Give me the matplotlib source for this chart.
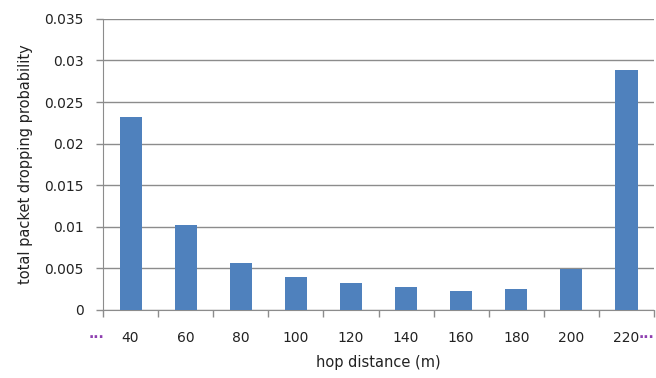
import matplotlib.pyplot as plt
import numpy as np

hops = ["40", "60", "80", "100", "120", "140", "160", "180", "200", "220"]
drop_prob = [0.0232, 0.0102, 0.0057, 0.0040, 0.0033, 0.0028, 0.0023, 0.0025, 0.0049, 0.0289]
yticks = [0, 0.005, 0.01, 0.015, 0.02, 0.025, 0.03, 0.035]
ytick_labels = ["0", "0.005", "0.01", "0.015", "0.02", "0.025", "0.03", "0.035"]

plt.rcParams["font.family"] = ["DejaVu Sans"]

fig = plt.figure(figsize=(6.56, 3.78), dpi=100)
ax = fig.add_axes([0.157, 0.18, 0.84, 0.77])

x = np.arange(len(hops))
ax.bar(x, drop_prob, width=0.4, color="#4F81BD", zorder=3)

ax.set_xlim(-0.5, len(hops) - 0.5)
ax.set_ylim(0, 0.035)
ax.set_yticks(yticks)
ax.set_yticklabels(ytick_labels)
ax.grid(axis="y", color="#8c8c8c", linewidth=1, zorder=0)

# category labels centred, ticks on boundaries
ax.set_xticks(np.arange(-0.5, len(hops) + 0.5, 1.0))
ax.set_xticklabels([])
ax.set_xticks(x, minor=True)
ax.set_xticklabels(hops, minor=True)
ax.tick_params(axis="x", which="minor", length=0, pad=15, labelsize=10, colors="#222222")
ax.tick_params(axis="x", which="major", length=5, color="#8c8c8c", width=1)
ax.tick_params(axis="y", length=5, color="#8c8c8c", width=1, labelsize=10, labelcolor="#222222", pad=9)

for side in ["top", "right"]:
    ax.spines[side].set_visible(False)
for side in ["left", "bottom"]:
    ax.spines[side].set_color("#8c8c8c")

# the purple dots on either side of the category axis
ax.text(-0.62, -0.0034, "···", color="#8e3fb0", fontsize=10, fontweight="bold",
        ha="center", va="center", clip_on=False)
ax.text(9.37, -0.0034, "···", color="#8e3fb0", fontsize=10, fontweight="bold",
        ha="center", va="center", clip_on=False)

ax.set_xlabel("hop distance (m)", fontsize=10.5, color="#222222", labelpad=7)
ax.set_ylabel("total packet dropping probability", fontsize=10.5, color="#222222", labelpad=8)

fig.savefig("out.png", dpi=100)
